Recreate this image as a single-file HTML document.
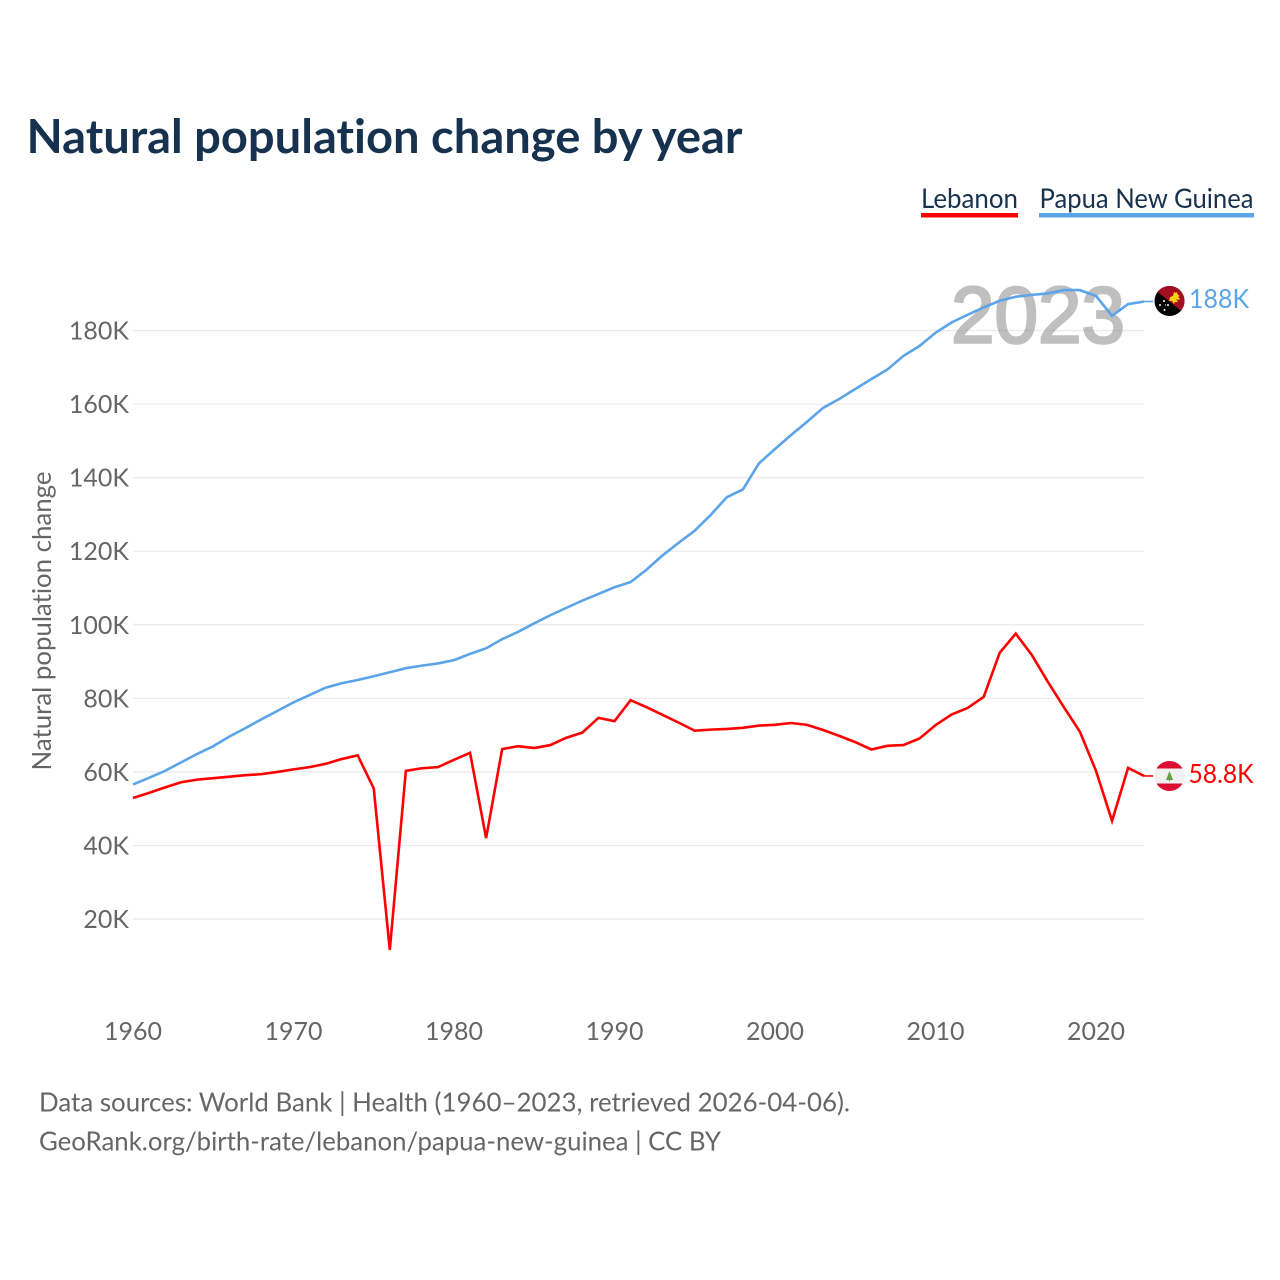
<!DOCTYPE html>
<html lang="en">
<head>
<meta charset="utf-8">
<title>Natural population change by year</title>
<style>
html,body{margin:0;padding:0;background:#fff;}
svg{display:block;}
text{font-family:"Lato","Carlito","Liberation Sans",sans-serif;font-variant-ligatures:none;}
</style>
</head>
<body>
<svg id="chart" xmlns="http://www.w3.org/2000/svg" width="1280" height="1280" viewBox="0 0 1280 1280">
  <defs>
    <clipPath id="flag-clip-png"><circle cx="1169.5" cy="301" r="15"/></clipPath>
    <clipPath id="flag-clip-lb"><circle cx="1169.5" cy="776" r="15"/></clipPath>
  </defs>
  <rect width="1280" height="1280" fill="#fff"/>
  <text x="26.5" y="153" font-size="47" font-weight="700" fill="#17324f" textLength="716" lengthAdjust="spacingAndGlyphs">Natural population change by year</text>

  <g>
    <text x="921" y="208" font-size="27" fill="#17324f" textLength="97" lengthAdjust="spacingAndGlyphs">Lebanon</text>
    <rect x="921" y="213" width="97" height="4.5" fill="#ff0000"/>
  </g>
  <g>
    <text x="1039.5" y="208" font-size="27" fill="#17324f" textLength="214" lengthAdjust="spacingAndGlyphs">Papua New Guinea</text>
    <rect x="1039" y="213" width="215" height="4.5" fill="#5ba4ea"/>
  </g>

  <g id="grid"></g>
  <g id="yticks"></g>
  <g id="xticks"></g>
  <text transform="translate(51,621) rotate(-90)" text-anchor="middle" font-size="26" fill="#666" textLength="299" lengthAdjust="spacingAndGlyphs">Natural population change</text>

  <g opacity="0.5">
    <text x="1038" y="342.5" text-anchor="middle" font-size="80" style="font-family:'Liberation Sans',sans-serif" fill="#808080" stroke="#808080" stroke-width="2.6" textLength="174" lengthAdjust="spacingAndGlyphs">2023</text>
  </g>

  <g id="series"></g>

  <g clip-path="url(#flag-clip-png)">
    <rect x="1154" y="285" width="31" height="32" fill="#000"/>
    <polygon points="1154,285 1185,285 1185,314 1154,289" fill="#a50d22"/>
    <path d="M1170 297l3-1 1-4 2 1 1-1 1 3 2 1-2 1 2 2-1 1-3-1 2 3-3 0-1 2-2-3-3 0 1-3z" fill="#fcd116"/>
    <g fill="#fff">
      <circle cx="1164" cy="301" r="1"/><circle cx="1160" cy="305" r="1"/><circle cx="1168" cy="305" r="1"/><circle cx="1164.5" cy="310" r="1"/><circle cx="1165.5" cy="305" r=".6"/>
    </g>
  </g>
  <g clip-path="url(#flag-clip-lb)">
    <rect x="1154" y="761" width="31" height="30" fill="#f0f0f0"/>
    <rect x="1154" y="761" width="31" height="7.5" fill="#d80f32"/>
    <rect x="1154" y="783.5" width="31" height="7.5" fill="#d80f32"/>
    <polygon points="1169.5,771 1173,780 1166,780" fill="#5f9f3f"/>
    <rect x="1169" y="779" width="1" height="2.5" fill="#5f9f3f"/>
  </g>

  <text x="1189" y="308" font-size="26" fill="#5ba4ea" textLength="60" lengthAdjust="spacingAndGlyphs">188K</text>
  <text x="1188.5" y="783" font-size="26" fill="#ff0000" textLength="65" lengthAdjust="spacingAndGlyphs">58.8K</text>

  <text x="39" y="1111.5" font-size="26.5" fill="#666" textLength="811" lengthAdjust="spacingAndGlyphs">Data sources: World Bank | Health (1960–2023, retrieved 2026-04-06).</text>
  <text x="39" y="1150.5" font-size="26.5" fill="#666" textLength="682" lengthAdjust="spacingAndGlyphs">GeoRank.org/birth-rate/lebanon/papua-new-guinea | CC BY</text>
</svg>
<script>
const startYear = 1960;
const yTickValues = [20, 40, 60, 80, 100, 120, 140, 160, 180];
const xTickYears = [1960, 1970, 1980, 1990, 2000, 2010, 2020];
const lebanonValues = [52.9,54.3,55.8,57.2,57.9,58.3,58.7,59.1,59.4,60.0,60.7,61.3,62.2,63.5,64.5,55.5,11.6,60.3,61.0,61.3,63.3,65.2,42.0,66.2,67.0,66.5,67.3,69.3,70.7,74.7,73.8,79.5,77.6,75.5,73.4,71.2,71.5,71.7,72.0,72.6,72.8,73.3,72.8,71.4,69.8,68.1,66.1,67.1,67.3,69.1,72.7,75.6,77.4,80.4,92.4,97.6,91.8,84.5,77.6,70.9,60.3,46.7,61.1,58.9];
const papuaValues = [56.6,58.4,60.3,62.6,64.9,67.0,69.6,71.9,74.3,76.6,78.9,80.9,82.9,84.1,85.0,86.0,87.1,88.2,88.9,89.5,90.4,92.1,93.6,96.1,98.1,100.4,102.6,104.6,106.6,108.4,110.2,111.6,115.0,118.9,122.3,125.6,129.9,134.7,136.8,143.9,147.8,151.6,155.2,159.0,161.4,164.1,166.8,169.4,173.1,175.8,179.4,182.2,184.3,186.3,188.1,189.2,189.7,190.1,191.0,191.0,189.4,184.0,187.2,187.9];

function xScale(year) { return 133 + (year - 1960) * 16.05; }
function yScale(k) { return 992.6 - k * 3.678; }
const NS = 'http://www.w3.org/2000/svg';
const grid = document.getElementById('grid');
const yticks = document.getElementById('yticks');
const xticks = document.getElementById('xticks');
const series = document.getElementById('series');

yTickValues.forEach(function (v) {
  const line = document.createElementNS(NS, 'line');
  
  
  line.setAttribute('x1', 133);
  line.setAttribute('x2', 1144);
  line.setAttribute('y1', yScale(v));
  line.setAttribute('y2', yScale(v));
  line.setAttribute('stroke', '#ebebeb');
  line.setAttribute('stroke-width', '1.3');
  grid.appendChild(line);
  const t = document.createElementNS(NS, 'text');
  
  
  t.setAttribute('x', 129);
  t.setAttribute('y', yScale(v) + 9);
  t.setAttribute('text-anchor', 'end');
  t.setAttribute('font-size', '25');
  t.setAttribute('fill', '#666');
  t.textContent = v + 'K';
  yticks.appendChild(t);
});

xTickYears.forEach(function (y) {
  const t = document.createElementNS(NS, 'text');
  
  
  t.setAttribute('x', xScale(y));
  t.setAttribute('y', 1040);
  t.setAttribute('text-anchor', 'middle');
  t.setAttribute('font-size', '25');
  t.setAttribute('fill', '#666');
  t.textContent = y;
  xticks.appendChild(t);
});

function drawSeries(values, color, name) {
  const pts = values.map(function (v, i) { return xScale(startYear + i).toFixed(2) + ',' + yScale(v).toFixed(2); });
  const p = document.createElementNS(NS, 'polyline');
  
  
  p.setAttribute('points', pts.join(' '));
  p.setAttribute('fill', 'none');
  p.setAttribute('stroke', color);
  p.setAttribute('stroke-width', '2.6');
  p.setAttribute('stroke-linejoin', 'miter');
  series.appendChild(p);
  const lastY = yScale(values[values.length - 1]);
  const tail = document.createElementNS(NS, 'line');
  
  
  tail.setAttribute('x1', xScale(startYear + values.length - 1));
  tail.setAttribute('x2', xScale(startYear + values.length - 1) + 9);
  tail.setAttribute('y1', lastY);
  tail.setAttribute('y2', lastY);
  tail.setAttribute('stroke', color);
  tail.setAttribute('stroke-width', '1.6');
  series.appendChild(tail);
}
drawSeries(papuaValues, '#5ba4ea', 'line-papua-new-guinea');
drawSeries(lebanonValues, '#ff0000', 'line-lebanon');
</script>
</body>
</html>
